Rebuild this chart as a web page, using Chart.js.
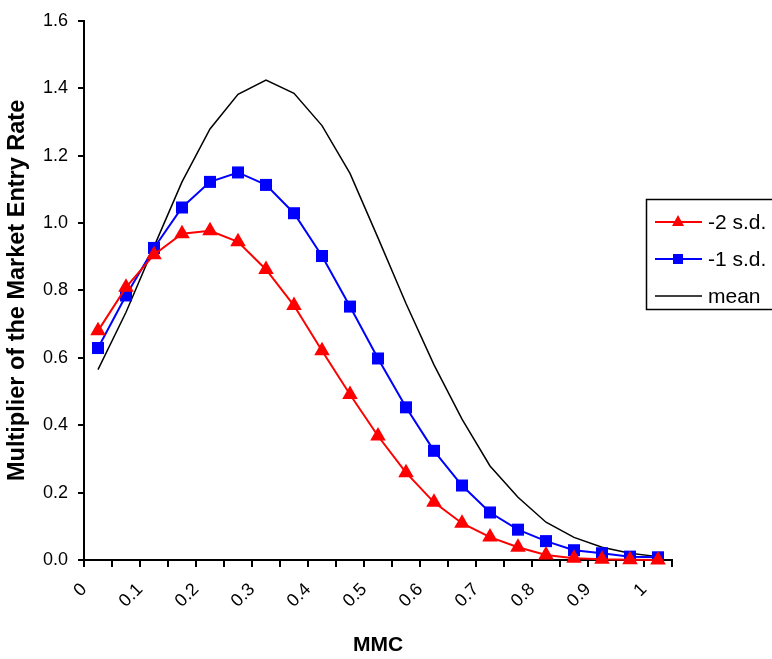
<!DOCTYPE html>
<html><head><meta charset="utf-8">
<script src="https://cdn.jsdelivr.net/npm/chart.js@4.4.1/dist/chart.umd.min.js"></script>
<style>html,body{margin:0;padding:0;background:#fff;overflow:hidden;}</style>
</head><body>
<canvas id="c" width="772" height="659" style="width:772px;height:659px;display:block"></canvas>
<script>
// MMC category centres (x values of the plotted points)
const mmc = [0.025,0.075,0.125,0.175,0.225,0.275,0.325,0.375,0.425,0.475,0.525,0.575,0.625,0.675,0.725,0.775,0.825,0.875,0.925,0.975,1.025];
const minus2sd = [0.680,0.809,0.906,0.968,0.977,0.944,0.862,0.755,0.621,0.491,0.368,0.259,0.171,0.109,0.068,0.038,0.015,0.005,0.002,0.001,0.000];
const minus1sd = [0.629,0.785,0.926,1.046,1.122,1.150,1.113,1.029,0.902,0.752,0.598,0.453,0.324,0.221,0.141,0.090,0.056,0.029,0.020,0.010,0.008];
const meanRate = [0.565,0.735,0.930,1.122,1.279,1.382,1.424,1.385,1.289,1.147,0.956,0.761,0.579,0.418,0.279,0.186,0.112,0.067,0.038,0.020,0.010];
const seriesNames = ['-2 s.d.','-1 s.d.','mean'];
const xTitle = 'MMC';
const yTitle = 'Multiplier of the Market Entry Rate';

const FONT = "'Liberation Sans', Arial, sans-serif";
const toPts = ys => ys.map((y,i)=>({x:mmc[i], y}));

const boxLegend = {
  id:'boxLegend',
  afterDraw(chart){
    const ctx = chart.ctx;
    ctx.save();
    ctx.strokeStyle='#000'; ctx.lineWidth=1.5;
    ctx.strokeRect(646.5,199.5,140,110);
    const rows=[222,259,296];
    chart.data.datasets.forEach((ds,i)=>{
      const y=rows[i];
      ctx.strokeStyle=ds.borderColor; ctx.lineWidth=ds.borderWidth;
      ctx.beginPath(); ctx.moveTo(655,y); ctx.lineTo(702,y); ctx.stroke();
      ctx.fillStyle=ds.pointBackgroundColor||ds.borderColor;
      if(ds.pointStyle==='triangle'){
        ctx.beginPath(); ctx.moveTo(678,y-7); ctx.lineTo(684,y+4); ctx.lineTo(672,y+4); ctx.closePath(); ctx.fill();
      } else if(ds.pointStyle==='rect' && ds.pointRadius>0){
        ctx.fillRect(673,y-5,10,10);
      }
      ctx.fillStyle='#000'; ctx.font='21px '+FONT; ctx.textBaseline='middle'; ctx.textAlign='left';
      ctx.fillText(ds.label,708,y+1);
    });
    ctx.restore();
  }
};

new Chart(document.getElementById('c'),{
  type:'line',
  data:{datasets:[
    {label:seriesNames[0],data:toPts(minus2sd),borderColor:'#ff0000',backgroundColor:'#ff0000',pointBackgroundColor:'#ff0000',pointBorderColor:'#ff0000',borderWidth:2,pointStyle:'triangle',pointRadius:9,pointBorderWidth:0,tension:0,clip:false},
    {label:seriesNames[1],data:toPts(minus1sd),borderColor:'#0000ff',backgroundColor:'#0000ff',pointBackgroundColor:'#0000ff',pointBorderColor:'#0000ff',borderWidth:2,pointStyle:'rect',pointRadius:8.5,pointBorderWidth:0,tension:0,clip:false},
    {label:seriesNames[2],data:toPts(meanRate),borderColor:'#000000',backgroundColor:'#000000',borderWidth:1.5,pointRadius:0,pointStyle:'line',tension:0,clip:false}
  ]},
  options:{
    responsive:false, animation:false, devicePixelRatio:1,
    layout:{padding:{left:0,right:100,top:16,bottom:0}},
    plugins:{legend:{display:false},tooltip:{enabled:false}},
    scales:{
      x:{type:'linear',min:0,max:1.05,
        border:{color:'#000',width:2},
        grid:{drawOnChartArea:false,drawTicks:true,tickLength:7,color:'#000',lineWidth:2},
        ticks:{stepSize:0.05,autoSkip:false,maxRotation:45,minRotation:45,color:'#000',padding:12,
          font:{family:FONT,size:18},
          callback:(v)=>{const k=Math.round(v*20); if(k%2!==0||k>20) return ''; const r=k/20; return r===0?'0':(r===1?'1':r.toFixed(1));}},
        title:{display:true,text:xTitle,color:'#000',font:{family:FONT,size:21,weight:'bold'},padding:{top:0,bottom:1}},
        afterFit:(s)=>{s.height=99;}
      },
      y:{type:'linear',min:0,max:1.6,
        border:{color:'#000',width:2},
        grid:{drawOnChartArea:false,drawTicks:true,tickLength:6,color:'#000',lineWidth:2},
        ticks:{stepSize:0.2,color:'#000',padding:10,font:{family:FONT,size:18},callback:(v)=>v.toFixed(1)},
        title:{display:true,text:yTitle,color:'#000',font:{family:FONT,size:23.5,weight:'bold'},padding:{top:3,bottom:0}},
        afterFit:(s)=>{s.width=84;}
      }
    }
  },
  plugins:[boxLegend]
});
</script>
</body></html>
